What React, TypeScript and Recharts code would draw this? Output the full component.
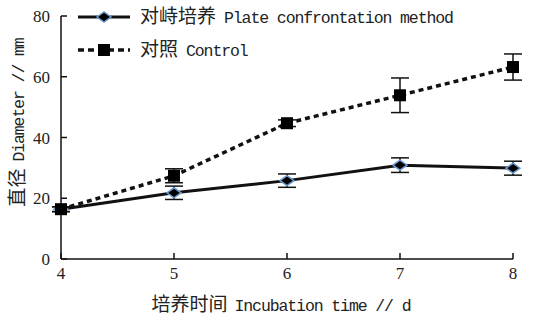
import React from 'react';
import { LineChart, Line, XAxis, YAxis, ErrorBar } from 'recharts';

const days = [4, 5, 6, 7, 8];
const plate = [16.4, 21.8, 25.8, 30.9, 29.9];
const plateErr = [0.8, 2.2, 2.2, 2.4, 2.3];
const control = [16.4, 27.4, 44.7, 53.9, 63.2];
const controlErr = [0.8, 2.3, 1.1, 5.7, 4.3];

const xTicks = [4, 5, 6, 7, 8];
const yTicks = [0, 20, 40, 60, 80];

const data = days.map((d, i) => ({
  day: d,
  plate: plate[i],
  plateErr: plateErr[i],
  control: control[i],
  controlErr: controlErr[i],
}));

const CJK = '"Noto Sans CJK SC", sans-serif';
const MONO = '"Liberation Mono", "DejaVu Sans Mono", monospace';
const SERIF = '"Liberation Serif", "DejaVu Serif", serif';
const INK = '#111';

const tickStyle = { fontSize: 17, fill: '#222', fontFamily: SERIF };
const enSize = 16.5;
const enSpacing = -1.1;

function Diamond({ cx, cy }: { cx: number; cy: number }) {
  return (
    <polygon
      points={`${cx - 7},${cy} ${cx},${cy - 5} ${cx + 7},${cy} ${cx},${cy + 5}`}
      fill="#000"
      stroke="#6a98d0"
      strokeWidth={1.5}
    />
  );
}

function Square({ cx, cy }: { cx: number; cy: number }) {
  return <rect x={cx - 6} y={cy - 6} width={12} height={12} fill="#000" />;
}

// legend drawn over the plot, top-left
function ChartLegend() {
  const rows = [
    { cn: '对峙培养', en: 'Plate confrontation method', dash: undefined, mark: 'diamond' },
    { cn: '对照', en: 'Control', dash: '6 4', mark: 'square' },
  ];
  return (
    <div style={{ position: 'absolute', left: 78, top: 0 }}>
      {rows.map((r) => (
        <div key={r.en} style={{ display: 'flex', alignItems: 'center', height: 33 }}>
          <svg width={52} height={14} style={{ marginRight: 10 }}>
            <line x1={0} y1={7} x2={52} y2={7} stroke={INK} strokeWidth={r.dash ? 3.5 : 3} strokeDasharray={r.dash} />
            {r.mark === 'diamond' ? <Diamond cx={26} cy={7} /> : <Square cx={26} cy={7} />}
          </svg>
          <span style={{ display: 'flex', alignItems: 'baseline', color: '#222', lineHeight: '20px' }}>
            <span style={{ fontFamily: CJK, fontSize: 19 }}>{r.cn}</span>
            <span style={{ fontFamily: MONO, fontSize: enSize, letterSpacing: enSpacing, marginLeft: 8 }}>{r.en}</span>
          </span>
        </div>
      ))}
    </div>
  );
}

function XTitle({ viewBox }: any) {
  const cx = viewBox.x + viewBox.width / 2 - 6;
  return (
    <text x={cx} y={311} textAnchor="middle" fill="#222">
      <tspan fontFamily={CJK} fontSize={19}>培养时间</tspan>
      <tspan fontFamily={MONO} fontSize={enSize} letterSpacing={enSpacing} dx={7}>Incubation time // d</tspan>
    </text>
  );
}

function YTitle({ viewBox }: any) {
  const cy = viewBox.y + viewBox.height / 2 - 15;
  return (
    <text x={0} y={0} transform={`translate(24, ${cy}) rotate(-90)`} textAnchor="middle" fill="#222">
      <tspan fontFamily={CJK} fontSize={19}>直径</tspan>
      <tspan fontFamily={MONO} fontSize={enSize} letterSpacing={enSpacing} dx={7}>Diameter // mm</tspan>
    </text>
  );
}

export default function App() {
  return (
    <div style={{ position: 'absolute', left: 0, top: 0, width: 549, height: 322, background: '#fff' }}>
      <LineChart width={549} height={322} data={data} margin={{ top: 16, right: 36, left: 21, bottom: 33 }}>
        <XAxis
          dataKey="day"
          type="number"
          domain={[4, 8]}
          ticks={xTicks}
          tick={tickStyle}
          stroke={INK}
          strokeWidth={1.5}
          tickSize={-6}
          tickMargin={14}
          height={30}
          label={<XTitle />}
        />
        <YAxis
          type="number"
          domain={[0, 80]}
          ticks={yTicks}
          tick={tickStyle}
          stroke={INK}
          strokeWidth={1.5}
          tickSize={-6}
          tickMargin={17}
          width={40}
          label={<YTitle />}
        />
        <Line
          dataKey="plate"
          stroke={INK}
          strokeWidth={3}
          dot={(p: any) => <Diamond key={`p${p.index}`} cx={p.cx} cy={p.cy} />}
          isAnimationActive={false}
        >
          <ErrorBar dataKey="plateErr" width={9} stroke={INK} strokeWidth={1.5} direction="y" />
        </Line>
        <Line
          dataKey="control"
          stroke={INK}
          strokeWidth={3.5}
          strokeDasharray="5 4"
          dot={(p: any) => <Square key={`c${p.index}`} cx={p.cx} cy={p.cy} />}
          isAnimationActive={false}
        >
          <ErrorBar dataKey="controlErr" width={9} stroke={INK} strokeWidth={1.5} direction="y" />
        </Line>
      </LineChart>
      <ChartLegend />
    </div>
  );
}
